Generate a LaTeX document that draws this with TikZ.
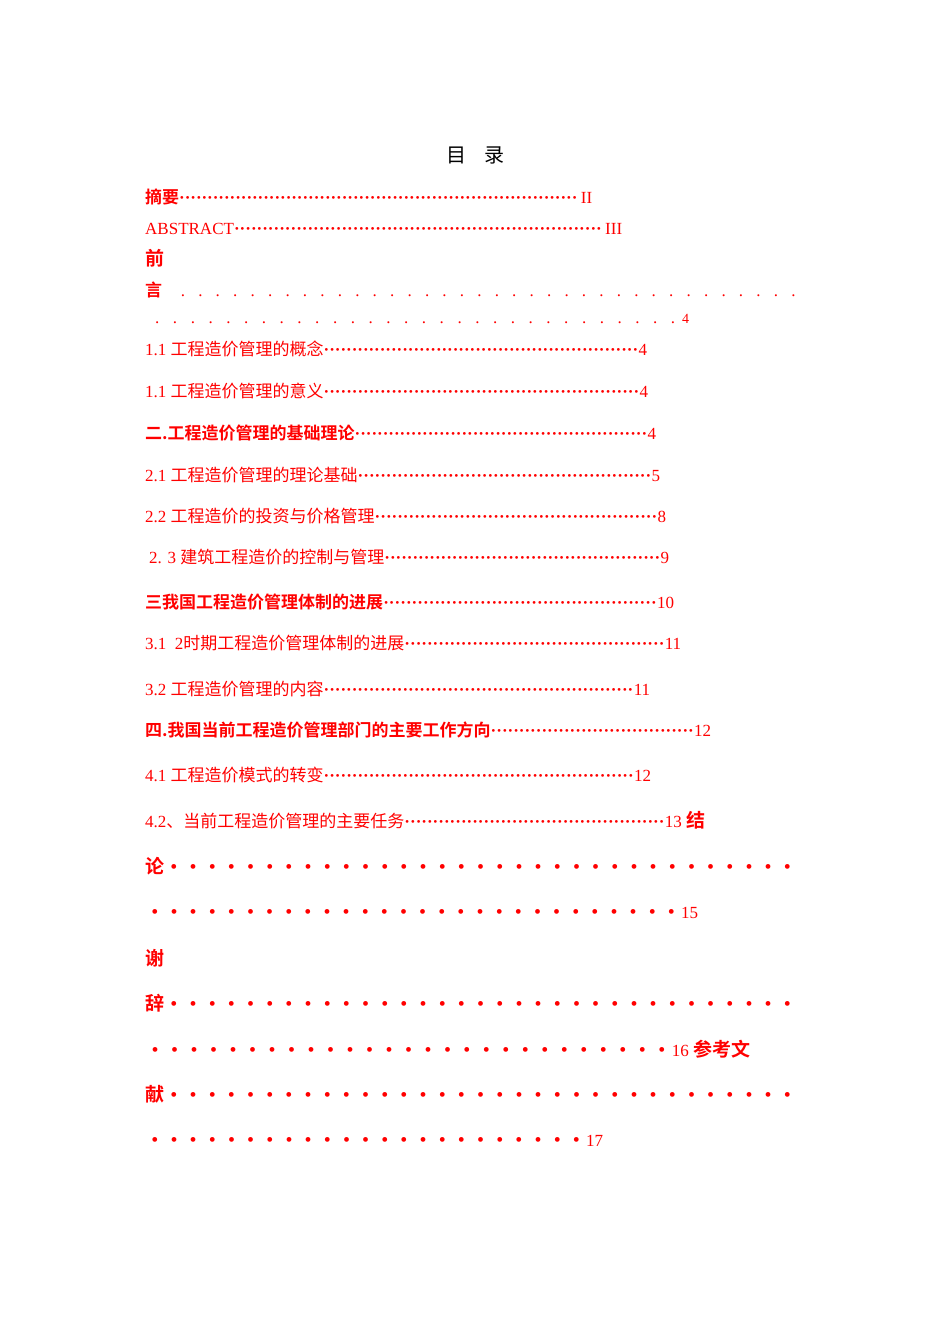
\documentclass[tikz,border=0pt]{standalone}
\usepackage{fontspec}
\setmainfont{Liberation Serif}
\newfontfamily\cjk{Noto Sans CJK SC}
\newfontfamily\cjkb{Noto Sans CJK SC Bold}
\newcommand\mdots{\xleaders\hbox to 5.6pt{\hss\textbf{·}\hss}\hfill}
\newcommand\sdots{\xleaders\hbox to 17.3pt{\hss.\hss}\hfill}
\newcommand\bdots{\xleaders\hbox to 18.9pt{\hss{\fontsize{20}{20}\selectfont\textbullet}\hss}\hfill}
\begin{document}
\begin{tikzpicture}[x=1pt,y=-1pt,
  tl/.style={anchor=base west,inner sep=0pt,text=red,font=\fontsize{17}{17}\selectfont}]
\useasboundingbox (0,0) rectangle (950,1344);
\newcommand\tl[5]{\node[tl] (#1) at (#2,#3) {\makebox[#4pt][l]{#5}};}
\node[anchor=base,inner sep=0pt,font=\cjk\fontsize{20}{20}\selectfont] (title) at (475,162) {目\hspace{18pt}录};
\tl{a}{145}{203}{447}{{\cjkb 摘要}\mdots\,II}
\tl{b}{145}{234}{477}{ABSTRACT\mdots\,III}
\node[tl,font=\cjkb\fontsize{19}{19}\selectfont] (c1) at (145,265) {前};
\tl{c2}{145}{296}{657}{{\cjkb 言}\hspace{12pt}\sdots}
\tl{c3}{148}{323}{541}{\sdots{\fontsize{14}{14}\selectfont 4}}
\tl{d}{145}{355}{502}{1.1 {\cjk 工程造价管理的概念}\mdots 4}
\tl{e}{145}{397}{503}{1.1 {\cjk 工程造价管理的意义}\mdots 4}
\tl{f}{145}{439}{511}{{\cjkb 二.工程造价管理的基础理论}\mdots 4}
\tl{g}{145}{481}{515}{2.1 {\cjk 工程造价管理的理论基础}\mdots 5}
\tl{h}{145}{522}{521}{2.2 {\cjk 工程造价的投资与价格管理}\mdots 8}
\tl{i}{149}{563}{520}{2. 3 {\cjk 建筑工程造价的控制与管理}\mdots 9}
\tl{j}{145}{608}{529}{{\cjkb 三我国工程造价管理体制的进展}\mdots 10}
\tl{k}{145}{649}{536}{3.1\ \ 2{\cjk 时期工程造价管理体制的进展}\mdots 11}
\tl{l}{145}{695}{505}{3.2 {\cjk 工程造价管理的内容}\mdots 11}
\tl{m}{145}{736}{566}{{\cjkb 四.我国当前工程造价管理部门的主要工作方向}\mdots 12}
\tl{n}{145}{781}{506}{4.1 {\cjk 工程造价模式的转变}\mdots 12}
\tl{o}{145}{827}{560}{4.2{\cjk 、当前工程造价管理的主要任务}\mdots 13 {\cjkb\fontsize{19}{19}\selectfont 结}}
\tl{p}{145}{873}{652}{{\cjkb\fontsize{19}{19}\selectfont 论}\bdots}
\tl{q}{145}{918}{553}{\bdots 15}
\node[tl,font=\cjkb\fontsize{19}{19}\selectfont] (r) at (145,965) {谢};
\tl{s}{145}{1010}{652}{{\cjkb\fontsize{19}{19}\selectfont 辞}\bdots}
\tl{t}{145}{1056}{605}{\bdots 16 {\cjkb\fontsize{19}{19}\selectfont 参考文}}
\tl{u}{145}{1101}{652}{{\cjkb\fontsize{19}{19}\selectfont 献}\bdots}
\tl{v}{145}{1146}{458}{\bdots 17}
\end{tikzpicture}
\end{document}
